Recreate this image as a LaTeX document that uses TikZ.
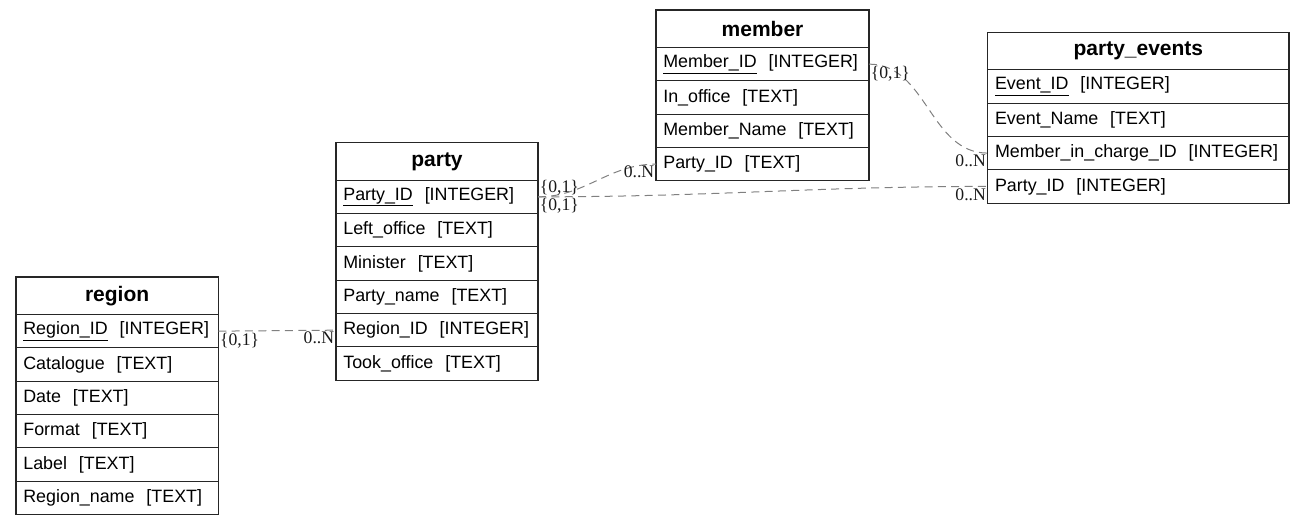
\documentclass[tikz,border=0pt]{standalone}
\usepackage{fontspec}
\usepackage{tikz}
\usetikzlibrary{positioning,calc}
\newfontfamily\tblfont{Liberation Sans}
\newfontfamily\lblfont{Liberation Serif}

\tikzset{
    tbltitle/.style={draw=black!85, line width=0.9pt, outer sep=0pt, inner xsep=5.5pt, inner ysep=0pt,
        minimum height=28.1pt, text width=#1, align=center, anchor=north west,
        font=\tblfont\bfseries\fontsize{15.75}{18}\selectfont},
    tblrow/.style={draw=black!85, line width=0.9pt, outer sep=0pt, inner xsep=5.5pt, inner ysep=0pt,
        minimum height=25pt, text width=#1, align=left,
        font=\tblfont\fontsize{13.4}{16}\selectfont},
    rel/.style={draw=black!50, line width=0.75pt, dash pattern=on 6pt off 4pt},
    card/.style={font=\lblfont\fontsize{13.25}{15}\selectfont, inner sep=1pt, text=black!90}
}

\begin{document}
\begin{tikzpicture}[x=0.75pt, y=-0.75pt]
    \useasboundingbox (0,0) rectangle (1305,525);

    % region
    \node[tbltitle=140.7pt] (region) at (16,277) {region};
    \node[tblrow=140.7pt, below=0pt of region] (region-Region_ID) {\underline{Region\_ID}\ \ [INTEGER]};
    \node[tblrow=140.7pt, below=0pt of region-Region_ID] (region-Catalogue) {Catalogue\ \ [TEXT]};
    \node[tblrow=140.7pt, below=0pt of region-Catalogue] (region-Date) {Date\ \ [TEXT]};
    \node[tblrow=140.7pt, below=0pt of region-Date] (region-Format) {Format\ \ [TEXT]};
    \node[tblrow=140.7pt, below=0pt of region-Format] (region-Label) {Label\ \ [TEXT]};
    \node[tblrow=140.7pt, below=0pt of region-Label] (region-Region_name) {Region\_name\ \ [TEXT]};

    % party
    \node[tbltitle=140.5pt] (party) at (336,142.7) {party};
    \node[tblrow=140.5pt, below=0pt of party] (party-Party_ID) {\underline{Party\_ID}\ \ [INTEGER]};
    \node[tblrow=140.5pt, below=0pt of party-Party_ID] (party-Left_office) {Left\_office\ \ [TEXT]};
    \node[tblrow=140.5pt, below=0pt of party-Left_office] (party-Minister) {Minister\ \ [TEXT]};
    \node[tblrow=140.5pt, below=0pt of party-Minister] (party-Party_name) {Party\_name\ \ [TEXT]};
    \node[tblrow=140.5pt, below=0pt of party-Party_name] (party-Region_ID) {Region\_ID\ \ [INTEGER]};
    \node[tblrow=140.5pt, below=0pt of party-Region_ID] (party-Took_office) {Took\_office\ \ [TEXT]};

    % member
    \node[tbltitle=148.75pt] (member) at (656,10) {member};
    \node[tblrow=148.75pt, below=0pt of member] (member-Member_ID) {\underline{Member\_ID}\ \ [INTEGER]};
    \node[tblrow=148.75pt, below=0pt of member-Member_ID] (member-In_office) {In\_office\ \ [TEXT]};
    \node[tblrow=148.75pt, below=0pt of member-In_office] (member-Member_Name) {Member\_Name\ \ [TEXT]};
    \node[tblrow=148.75pt, below=0pt of member-Member_Name] (member-Party_ID) {Party\_ID\ \ [TEXT]};

    % party_events
    \node[tbltitle=215pt] (party_events) at (987.7,32.3) {party\_events};
    \node[tblrow=215pt, below=0pt of party_events] (party_events-Event_ID) {\underline{Event\_ID}\ \ [INTEGER]};
    \node[tblrow=215pt, below=0pt of party_events-Event_ID] (party_events-Event_Name) {Event\_Name\ \ [TEXT]};
    \node[tblrow=215pt, below=0pt of party_events-Event_Name] (party_events-Member_in_charge_ID) {Member\_in\_charge\_ID\ \ [INTEGER]};
    \node[tblrow=215pt, below=0pt of party_events-Member_in_charge_ID] (party_events-Party_ID) {Party\_ID\ \ [INTEGER]};

    % relations
    \draw[rel] (region-Region_ID.east) -- (party-Region_ID.west)
        node[pos=0, anchor=north west, card] {\{0,1\}}
        node[pos=1, anchor=north east, card] {0..N};
    \draw[rel] (party-Party_ID.east) to[out=0, in=180]
        node[pos=0, anchor=south west, card] {\{0,1\}}
        node[pos=1, anchor=north east, card] {0..N} (member-Party_ID.west);
    \draw[rel] (party-Party_ID.east) to[out=0, in=180]
        node[pos=0, anchor=north west, card] {\{0,1\}}
        node[pos=1, anchor=north east, card] {0..N} (party_events-Party_ID.west);
    \draw[rel] (member-Member_ID.east) to[out=0, in=180]
        node[pos=0, anchor=north west, card] {\{0,1\}}
        node[pos=1, anchor=north east, card] {0..N} (party_events-Member_in_charge_ID.west);
\end{tikzpicture}
\end{document}
